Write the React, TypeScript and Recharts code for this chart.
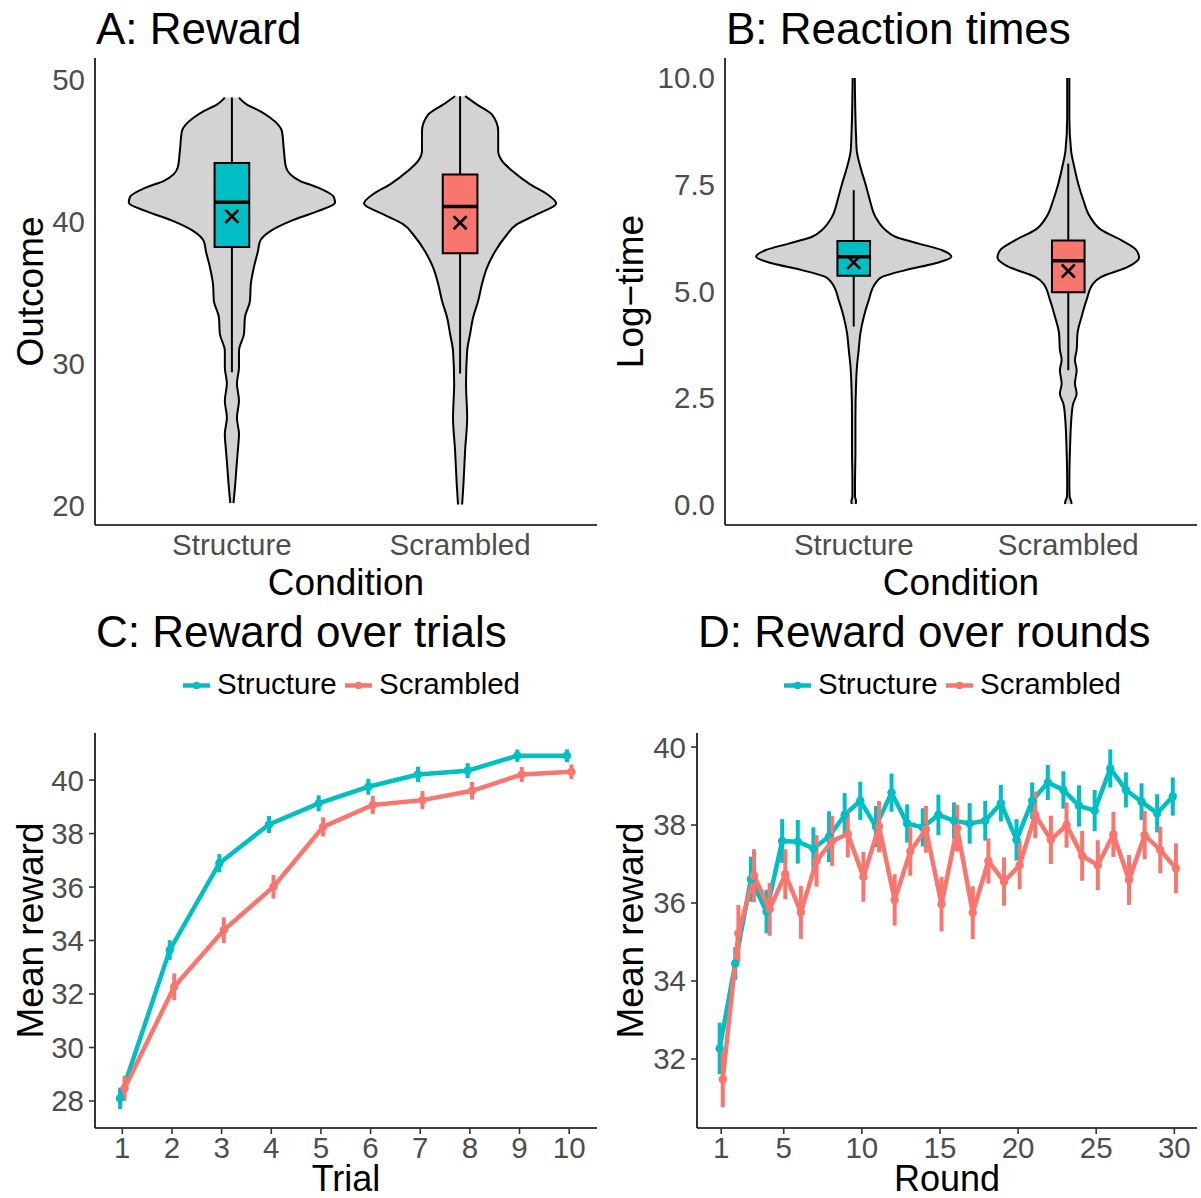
import React from 'react';
import { ComposedChart, Area, Line, XAxis, YAxis, ReferenceArea, ReferenceLine, ReferenceDot, ErrorBar } from 'recharts';

const CYAN = '#00BFC4';
const RED = '#F8766D';
const conditions = ['Structure', 'Scrambled'];

// ---------- Panel A: Reward violins (y value, half-width in category units) ----------
const rewardStructY = [48.7, 48.2, 47.75, 47.3, 46.35, 44.95, 43.8, 42.85, 42.4, 41.7, 41.3, 40.7, 40.0, 39.3, 38.6, 37.9, 36.75, 35.6, 34.4, 33.25, 32.1, 30.9, 29.75, 28.6, 27.4, 26.2, 25.05, 23.9, 22.7, 21.6, 20.2];
const rewardStructW = [0.031, 0.066, 0.123, 0.167, 0.219, 0.228, 0.237, 0.298, 0.373, 0.447, 0.452, 0.373, 0.254, 0.167, 0.123, 0.114, 0.096, 0.083, 0.079, 0.057, 0.053, 0.031, 0.031, 0.022, 0.031, 0.022, 0.031, 0.026, 0.020, 0.015, 0.007];
const rewardScramY = [48.8, 48.2, 47.5, 46.35, 44.95, 44.25, 43.5, 42.6, 41.9, 41.25, 40.5, 39.8, 38.9, 37.9, 36.75, 35.6, 34.4, 33.25, 32.1, 30.9, 28.6, 26.2, 23.9, 21.6, 20.1];
const rewardScramW = [0.022, 0.075, 0.140, 0.167, 0.167, 0.184, 0.232, 0.307, 0.382, 0.421, 0.338, 0.250, 0.197, 0.154, 0.118, 0.096, 0.079, 0.057, 0.044, 0.031, 0.026, 0.031, 0.022, 0.015, 0.009];
const rewardQ1 = [38.2, 37.75];
const rewardMedian = [41.35, 41.05];
const rewardQ3 = [44.1, 43.3];
const rewardWhiskLo = [29.4, 29.3];
const rewardWhiskHi = [48.7, 48.8];
const rewardMean = [40.35, 39.9];
const rewardTicks = [20, 30, 40, 50];

// ---------- Panel B: Reaction-time violins ----------
const rtStructY = [9.98, 9.07, 8.6, 8.29, 7.9, 7.5, 7.13, 6.74, 6.43, 6.27, 6.11, 5.96, 5.80, 5.65, 5.49, 5.33, 5.18, 4.79, 4.40, 4.01, 3.62, 3.23, 2.84, 2.06, 1.29, 0.51, 0.2, 0.08, 0.02];
const rtStructW = [0.005, 0.008, 0.011, 0.014, 0.031, 0.055, 0.075, 0.101, 0.148, 0.194, 0.303, 0.41, 0.455, 0.381, 0.241, 0.132, 0.101, 0.070, 0.047, 0.031, 0.023, 0.015, 0.011, 0.008, 0.008, 0.006, 0.006, 0.011, 0.009];
const rtScramY = [9.98, 9.07, 8.29, 7.9, 7.5, 7.13, 6.74, 6.43, 6.19, 5.96, 5.78, 5.57, 5.33, 5.18, 4.79, 4.40, 4.01, 3.62, 3.39, 3.15, 2.84, 2.60, 2.37, 2.06, 1.29, 0.51, 0.2, 0.05, 0.02];
const rtScramW = [0.005, 0.005, 0.013, 0.028, 0.047, 0.070, 0.101, 0.154, 0.247, 0.317, 0.330, 0.280, 0.154, 0.117, 0.085, 0.062, 0.043, 0.039, 0.031, 0.039, 0.031, 0.039, 0.023, 0.015, 0.008, 0.005, 0.006, 0.015, 0.014];
const rtQ1 = [5.36, 4.97];
const rtMedian = [5.80, 5.71];
const rtQ3 = [6.17, 6.18];
const rtWhiskLo = [4.17, 3.15];
const rtWhiskHi = [7.36, 7.98];
const rtMean = [5.67, 5.47];
const rtTicks = [0, 2.5, 5, 7.5, 10];

// ---------- Panel C: reward over trials ----------
const trials = [1, 2, 3, 4, 5, 6, 7, 8, 9, 10];
const trialStruct = [28.1, 33.64, 36.89, 38.34, 39.13, 39.75, 40.21, 40.35, 40.91, 40.91];
const trialStructSE = [0.4, 0.37, 0.34, 0.32, 0.3, 0.3, 0.29, 0.28, 0.23, 0.24];
const trialScram = [28.47, 32.27, 34.39, 36.01, 38.25, 39.07, 39.25, 39.6, 40.21, 40.31];
const trialScramSE = [0.47, 0.5, 0.48, 0.44, 0.36, 0.34, 0.34, 0.33, 0.28, 0.27];
const trialYTicks = [28, 30, 32, 34, 36, 38, 40];

// ---------- Panel D: reward over rounds ----------
const rounds = Array.from({ length: 30 }, (_, i) => i + 1);
const roundStruct = [32.27, 34.45, 36.61, 35.78, 37.59, 37.57, 37.40, 37.70, 38.26, 38.62, 37.96, 38.83, 38.04, 37.94, 38.26, 38.11, 38.04, 38.11, 38.56, 37.62, 38.62, 39.09, 38.90, 38.49, 38.37, 39.45, 38.90, 38.60, 38.30, 38.73];
const roundStructSE = [0.66, 0.42, 0.58, 0.56, 0.56, 0.56, 0.54, 0.65, 0.56, 0.49, 0.53, 0.49, 0.49, 0.49, 0.52, 0.47, 0.52, 0.51, 0.47, 0.53, 0.47, 0.45, 0.48, 0.53, 0.53, 0.49, 0.45, 0.47, 0.49, 0.49];
const roundScram = [31.48, 35.22, 36.70, 35.84, 36.74, 35.76, 37.08, 37.59, 37.77, 36.67, 37.96, 36.08, 37.32, 37.89, 35.97, 37.92, 35.75, 37.08, 36.55, 36.97, 38.26, 37.62, 38.00, 37.21, 36.97, 37.76, 36.59, 37.74, 37.36, 36.89];
const roundScramSE = [0.72, 0.73, 0.68, 0.68, 0.64, 0.68, 0.66, 0.64, 0.6, 0.64, 0.66, 0.66, 0.62, 0.6, 0.7, 0.6, 0.68, 0.58, 0.62, 0.62, 0.6, 0.62, 0.58, 0.64, 0.64, 0.58, 0.64, 0.62, 0.6, 0.64];
const roundXTicks = [1, 5, 10, 15, 20, 25, 30];
const roundYTicks = [32, 34, 36, 38, 40];

const FONT = '"Liberation Sans", Arial, Helvetica, sans-serif';
const TICK = { fill: '#4D4D4D', fontSize: 29.5, fontFamily: FONT };
const AXIS_LINE = { stroke: '#000', strokeWidth: 1.6 };
const BOX_HALF = 0.076;

function violinData(ys: number[], ws: number[], center: number) {
  return ys
    .map((y, i) => ({ y, v: [center - ws[i], center + ws[i]] }))
    .sort((a, b) => a.y - b.y);
}

const Cross = (props: any) => {
  const { cx, cy } = props;
  const s = 6.5;
  return (
    <path
      d={`M${cx - s},${cy - s}L${cx + s},${cy + s}M${cx - s},${cy + s}L${cx + s},${cy - s}`}
      stroke="#000"
      strokeWidth={2.6}
      fill="none"
    />
  );
};

type ViolinProps = {
  width: number;
  height: number;
  margin: any;
  yWidth: number;
  yDomain: [number, number];
  yTicks: number[];
  yFmt: (v: number) => string;
  ys: number[][];
  ws: number[][];
  q1: number[];
  med: number[];
  q3: number[];
  wlo: number[];
  whi: number[];
  mean: number[];
};

function ViolinChart(p: ViolinProps) {
  const fills = [CYAN, RED];
  return (
    <ComposedChart layout="vertical" width={p.width} height={p.height} margin={p.margin}>
      <XAxis
        type="number"
        domain={[0.4, 2.6]}
        ticks={[1, 2]}
        interval={0}
        allowDataOverflow
        tickFormatter={(v: number) => conditions[v - 1]}
        height={75}
        tickLine={false}
        tickSize={0}
        tickMargin={9}
        axisLine={AXIS_LINE}
        tick={TICK}
      />
      <YAxis
        type="number"
        dataKey="y"
        reversed
        domain={p.yDomain}
        ticks={p.yTicks}
        interval={0}
        allowDataOverflow
        tickFormatter={p.yFmt}
        width={p.yWidth}
        tickLine={false}
        tickSize={0}
        tickMargin={10}
        axisLine={AXIS_LINE}
        tick={TICK}
      />
      {conditions.map((c, i) => (
        <Area
          key={'vio' + c}
          data={violinData(p.ys[i], p.ws[i], i + 1)}
          dataKey="v"
          type="monotone"
          fill="#D3D3D3"
          fillOpacity={1}
          stroke="#000"
          strokeWidth={2}
          dot={false}
          activeDot={false}
          isAnimationActive={false}
          zIndex={100}
        />
      ))}
      {conditions.map((c, i) => (
        <ReferenceLine
          key={'wh' + c}
          segment={[{ x: i + 1, y: p.wlo[i] }, { x: i + 1, y: p.whi[i] }]}
          stroke="#000"
          strokeWidth={2}
          zIndex={110}
        />
      ))}
      {conditions.map((c, i) => (
        <ReferenceArea
          key={'box' + c}
          x1={i + 1 - BOX_HALF}
          x2={i + 1 + BOX_HALF}
          y1={p.q1[i]}
          y2={p.q3[i]}
          fill={fills[i]}
          fillOpacity={1}
          stroke="#000"
          strokeWidth={2}
          zIndex={120}
        />
      ))}
      {conditions.map((c, i) => (
        <ReferenceLine
          key={'med' + c}
          segment={[{ x: i + 1 - BOX_HALF, y: p.med[i] }, { x: i + 1 + BOX_HALF, y: p.med[i] }]}
          stroke="#000"
          strokeWidth={3.5}
          zIndex={130}
        />
      ))}
      {conditions.map((c, i) => (
        <ReferenceDot key={'mean' + c} x={i + 1} y={p.mean[i]} r={6} shape={Cross} zIndex={140} />
      ))}
    </ComposedChart>
  );
}

function seriesData(xs: number[], ys: number[], es: number[], shift: number) {
  return xs.map((x, i) => ({ x: x + shift, y: ys[i], e: es[i] }));
}

type LineProps = {
  width: number;
  height: number;
  rightMargin: number;
  yWidth: number;
  xDomain: [number, number];
  xTicks: number[];
  yDomain: [number, number];
  yTicks: number[];
  xs: number[];
  a: number[];
  ae: number[];
  b: number[];
  be: number[];
  dodge: number;
};

function LinePanel(p: LineProps) {
  return (
    <ComposedChart width={p.width} height={p.height} margin={{ top: 133, right: p.rightMargin, bottom: 0, left: 0 }}>
      <XAxis
        type="number"
        dataKey="x"
        domain={p.xDomain}
        ticks={p.xTicks}
        interval={0}
        allowDataOverflow
        height={70}
        tickSize={6}
        tickMargin={3}
        tickLine={{ stroke: '#333', strokeWidth: 1.6 }}
        axisLine={AXIS_LINE}
        tick={TICK}
      />
      <YAxis
        type="number"
        domain={p.yDomain}
        ticks={p.yTicks}
        interval={0}
        allowDataOverflow
        width={p.yWidth}
        tickSize={6}
        tickMargin={5}
        tickLine={{ stroke: '#333', strokeWidth: 1.6 }}
        axisLine={AXIS_LINE}
        tick={TICK}
      />
      <Line
        data={seriesData(p.xs, p.a, p.ae, -p.dodge)}
        dataKey="y"
        stroke={CYAN}
        strokeWidth={4.5}
        dot={{ r: 3.8, fill: CYAN, stroke: CYAN, strokeWidth: 1 }}
        activeDot={false}
        isAnimationActive={false}
      >
        <ErrorBar dataKey="e" width={0} stroke={CYAN} strokeWidth={4} direction="y" />
      </Line>
      <Line
        data={seriesData(p.xs, p.b, p.be, p.dodge)}
        dataKey="y"
        stroke={RED}
        strokeWidth={4.5}
        dot={{ r: 3.8, fill: RED, stroke: RED, strokeWidth: 1 }}
        activeDot={false}
        isAnimationActive={false}
      >
        <ErrorBar dataKey="e" width={0} stroke={RED} strokeWidth={4} direction="y" />
      </Line>
    </ComposedChart>
  );
}

function LegendKeys({ x0 }: { x0: number }) {
  const y = 685.5;
  const items = [
    { label: 'Structure', color: CYAN, dx: 0 },
    { label: 'Scrambled', color: RED, dx: 162 },
  ];
  return (
    <g>
      {items.map((it) => (
        <g key={it.label}>
          <line x1={x0 + it.dx} x2={x0 + it.dx + 27} y1={y} y2={y} stroke={it.color} strokeWidth={4.5} />
          <circle cx={x0 + it.dx + 13.5} cy={y} r={3.8} fill={it.color} />
          <text x={x0 + it.dx + 34} y={694} fontSize={29.5} fill="#000">
            {it.label}
          </text>
        </g>
      ))}
    </g>
  );
}

export default function App() {
  const fmtInt = (v: number) => String(v);
  const fmt1 = (v: number) => v.toFixed(1);
  return (
    <div
      style={{
        position: 'absolute',
        left: 0,
        top: 0,
        width: 1201,
        height: 1198,
        background: '#fff',
        fontFamily: FONT,
        overflow: 'hidden',
      }}
    >
      <div style={{ position: 'absolute', left: 0, top: 0 }}>
        <ViolinChart
          width={600}
          height={600}
          margin={{ top: 58, right: 3, bottom: 0, left: 0 }}
          yWidth={95}
          yDomain={[18.66, 51.48]}
          yTicks={rewardTicks}
          yFmt={fmtInt}
          ys={[rewardStructY, rewardScramY]}
          ws={[rewardStructW, rewardScramW]}
          q1={rewardQ1}
          med={rewardMedian}
          q3={rewardQ3}
          wlo={rewardWhiskLo}
          whi={rewardWhiskHi}
          mean={rewardMean}
        />
      </div>
      <div style={{ position: 'absolute', left: 600, top: 0 }}>
        <ViolinChart
          width={601}
          height={600}
          margin={{ top: 58, right: 4, bottom: 0, left: 0 }}
          yWidth={125}
          yDomain={[-0.47, 10.45]}
          yTicks={rtTicks}
          yFmt={fmt1}
          ys={[rtStructY, rtScramY]}
          ws={[rtStructW, rtScramW]}
          q1={rtQ1}
          med={rtMedian}
          q3={rtQ3}
          wlo={rtWhiskLo}
          whi={rtWhiskHi}
          mean={rtMean}
        />
      </div>
      <div style={{ position: 'absolute', left: 0, top: 600 }}>
        <LinePanel
          width={600}
          height={598}
          rightMargin={3}
          yWidth={95}
          xDomain={[0.45, 10.56]}
          xTicks={trials}
          yDomain={[26.99, 41.76]}
          yTicks={trialYTicks}
          xs={trials}
          a={trialStruct}
          ae={trialStructSE}
          b={trialScram}
          be={trialScramSE}
          dodge={0.045}
        />
      </div>
      <div style={{ position: 'absolute', left: 600, top: 600 }}>
        <LinePanel
          width={601}
          height={598}
          rightMargin={4}
          yWidth={97}
          xDomain={[-0.55, 31.45]}
          xTicks={roundXTicks}
          yDomain={[30.23, 40.36]}
          yTicks={roundYTicks}
          xs={rounds}
          a={roundStruct}
          ae={roundStructSE}
          b={roundScram}
          be={roundScramSE}
          dodge={0.1}
        />
      </div>
      <svg
        width={1201}
        height={1198}
        style={{ position: 'absolute', left: 0, top: 0, pointerEvents: 'none' }}
        fontFamily={FONT}
      >
        <text x={96} y={44} fontSize={44} fill="#000">A: Reward</text>
        <text x={726} y={44} fontSize={44} fill="#000">B: Reaction times</text>
        <text x={96} y={647} fontSize={44} fill="#000">C: Reward over trials</text>
        <text x={698} y={647} fontSize={44} fill="#000">D: Reward over rounds</text>

        <text x={346} y={595} fontSize={37} textAnchor="middle" fill="#000">Condition</text>
        <text x={961} y={595} fontSize={37} textAnchor="middle" fill="#000">Condition</text>
        <text x={346} y={1191} fontSize={36} textAnchor="middle" fill="#000">Trial</text>
        <text x={947} y={1191} fontSize={36} textAnchor="middle" fill="#000">Round</text>

        <text transform="translate(43,291.5) rotate(-90)" fontSize={37} textAnchor="middle" fill="#000">Outcome</text>
        <text transform="translate(643,291.5) rotate(-90)" fontSize={37} textAnchor="middle" fill="#000">{'Log\u2212time'}</text>
        <text transform="translate(43,930.5) rotate(-90)" fontSize={37} textAnchor="middle" fill="#000">Mean reward</text>
        <text transform="translate(643,930.5) rotate(-90)" fontSize={37} textAnchor="middle" fill="#000">Mean reward</text>

        <LegendKeys x0={183} />
        <LegendKeys x0={784} />
      </svg>
    </div>
  );
}
